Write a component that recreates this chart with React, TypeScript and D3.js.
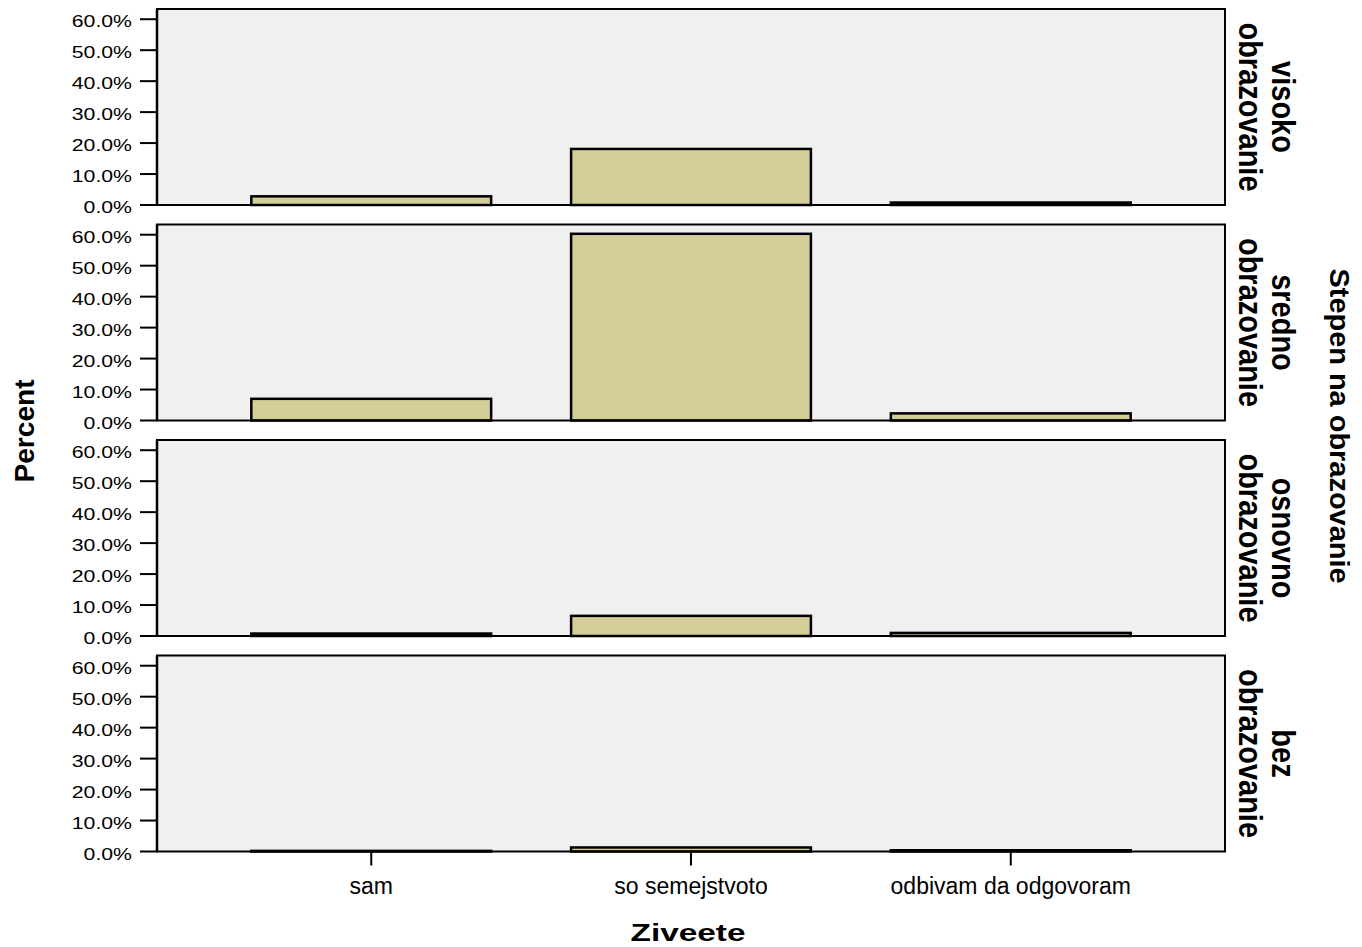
import React from "react";
import * as d3 from "d3";

const categories = ["sam", "so semejstvoto", "odbivam da odgovoram"];
const panels = [
  ["visoko", "obrazovanie"],
  ["sredno", "obrazovanie"],
  ["osnovno", "obrazovanie"],
  ["bez", "obrazovanie"],
];
const visokoValues = [2.8, 18.1, 0.8];
const srednoValues = [7.0, 60.3, 2.3];
const osnovnoValues = [0.8, 6.5, 1.0];
const bezValues = [0.2, 1.3, 0.4];
const panelValues = [visokoValues, srednoValues, osnovnoValues, bezValues];
const yTicks = [0, 10, 20, 30, 40, 50, 60];
const xTitle = "Ziveete";
const yTitle = "Percent";
const rowTitle = "Stepen na obrazovanie";

const W = 1362;
const H = 947;
const left = 157;
const right = 1225;
const firstTop = 9;
const panelH = 196;
const panelStep = 215.5;
const yMax = 63.3;
const FONT = "'Liberation Sans', Arial, Helvetica, sans-serif";
const barFill = "#d3ce97";
const panelFill = "#f0f0f0";

export default function App() {
  const x = d3
    .scaleBand<string>()
    .domain(categories)
    .range([left, right])
    .paddingInner(0.25)
    .paddingOuter(0.295);
  const fmt = (v: number) => d3.format(".1f")(v) + "%";

  return (
    <svg
      width={W}
      height={H}
      style={{ position: "absolute", left: 0, top: 0, background: "#fff" }}
      fontFamily={FONT}
    >
      {panels.map((lab, i) => {
        const top = firstTop + i * panelStep;
        const bottom = top + panelH;
        const y = d3.scaleLinear().domain([0, yMax]).range([bottom, top]);
        const vals = panelValues[i];
        const cy = (top + bottom) / 2;
        return (
          <g key={i}>
            <rect x={left} y={top} width={right - left} height={panelH} fill={panelFill} />
            {vals.map((v, j) => (
              <rect
                key={j}
                x={x(categories[j])}
                y={y(v)}
                width={x.bandwidth()}
                height={Math.max(0, y(0) - y(v))}
                fill={barFill}
                stroke="#000"
                strokeWidth={2.5}
              />
            ))}
            <rect
              x={left}
              y={top}
              width={right - left}
              height={panelH}
              fill="none"
              stroke="#000"
              strokeWidth={2}
            />
            <line x1={left} x2={left} y1={top} y2={bottom} stroke="#000" strokeWidth={2.5} />
            {yTicks.map((t) => (
              <g key={t}>
                <line x1={140} x2={left} y1={y(t)} y2={y(t)} stroke="#000" strokeWidth={2} />
                <text
                  transform={`translate(132,${y(t) + 8}) scale(1.25,1)`}
                  textAnchor="end"
                  fontSize={17}
                  fill="#000"
                >
                  {fmt(t)}
                </text>
              </g>
            ))}
            <text
              transform={`translate(1272,${cy}) scale(1.12,1) rotate(90)`}
              textAnchor="middle"
              fontSize={29}
              fontWeight="bold"
              fill="#000"
            >
              {lab[0]}
            </text>
            <text
              transform={`translate(1239,${cy}) scale(1.12,1) rotate(90)`}
              textAnchor="middle"
              fontSize={29}
              fontWeight="bold"
              fill="#000"
            >
              {lab[1]}
            </text>
          </g>
        );
      })}
      {categories.map((c) => {
        const cx = (x(c) as number) + x.bandwidth() / 2;
        const base = firstTop + 3 * panelStep + panelH;
        return (
          <g key={c}>
            <line x1={cx} x2={cx} y1={base} y2={base + 14} stroke="#000" strokeWidth={2} />
            <text x={cx} y={894} textAnchor="middle" fontSize={23} fill="#000">
              {c}
            </text>
          </g>
        );
      })}
      <text
        x={688}
        y={941}
        textAnchor="middle"
        fontSize={24}
        fontWeight="bold"
        textLength={115}
        lengthAdjust="spacingAndGlyphs"
        fill="#000"
      >
        {xTitle}
      </text>
      <text
        transform={`translate(34,431) rotate(-90)`}
        textAnchor="middle"
        fontSize={27}
        fontWeight="bold"
        textLength={103}
        lengthAdjust="spacingAndGlyphs"
        fill="#000"
      >
        {yTitle}
      </text>
      <text
        transform={`translate(1330,426) rotate(90)`}
        textAnchor="middle"
        fontSize={28}
        fontWeight="bold"
        textLength={315}
        lengthAdjust="spacingAndGlyphs"
        fill="#000"
      >
        {rowTitle}
      </text>
    </svg>
  );
}
